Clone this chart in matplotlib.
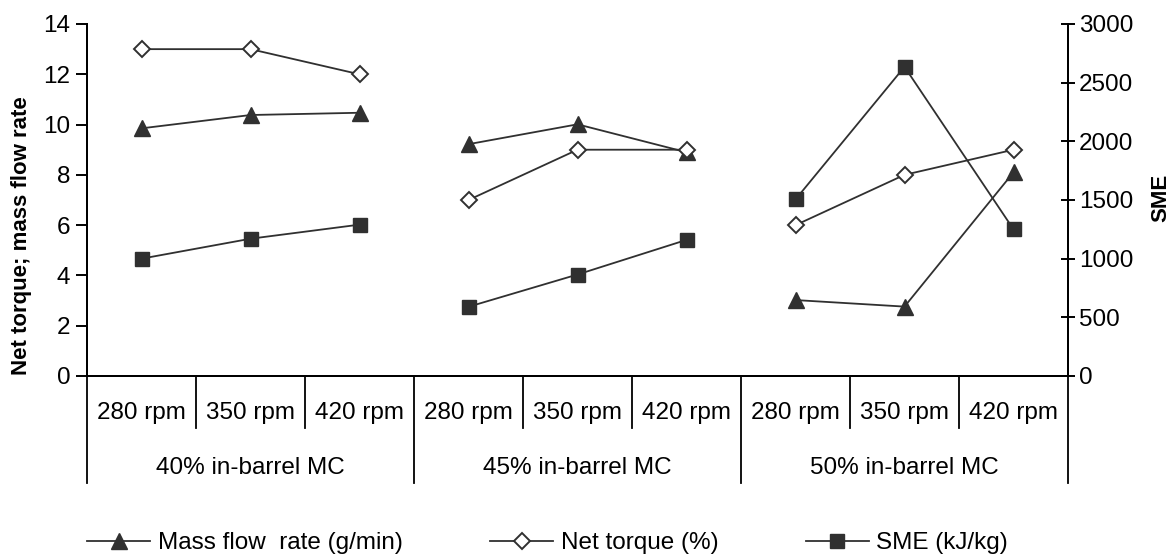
import matplotlib
matplotlib.use('Agg')
import matplotlib.pyplot as plt
import numpy as np

plt.rcParams['font.family'] = ['Liberation Sans', 'DejaVu Sans']

speeds = ['280 rpm', '350 rpm', '420 rpm']
groups = ['40% in-barrel MC', '45% in-barrel MC', '50% in-barrel MC']

mass_flow = [[9.85, 10.38, 10.47], [9.22, 10.01, 8.9], [3.02, 2.76, 8.1]]
net_torque = [[13, 13, 12], [7, 9, 9], [6, 8, 9]]
sme = [[1000, 1170, 1290], [590, 865, 1160], [1505, 2635, 1250]]

col = '#303030'
fs = 17.5

fig = plt.figure(figsize=(11.75, 5.59), dpi=100)
ax = fig.add_axes([87/1175, 1-376/559, (1068-87)/1175, 352/559])
ax2 = ax.twinx()

n = len(speeds)
for g in range(len(groups)):
    x = np.arange(n) + g*n
    ax.plot(x, mass_flow[g], color=col, lw=1.3, marker='^', ms=11, mfc=col, mec=col,
            label='Mass flow  rate (g/min)' if g == 0 else None)
    ax.plot(x, net_torque[g], color=col, lw=1.3, marker='D', ms=8, mfc='white', mec=col, mew=1.4,
            label='Net torque (%)' if g == 0 else None)
    ax2.plot(x, sme[g], color=col, lw=1.3, marker='s', ms=10, mfc=col, mec=col,
             label='SME (kJ/kg)' if g == 0 else None)

ax.set_xlim(-0.5, n*len(groups) - 0.5)
ax.set_ylim(0, 14)
ax.set_yticks(range(0, 15, 2))
ax2.set_ylim(0, 3000)
ax2.set_yticks(range(0, 3001, 500))

for a in (ax, ax2):
    a.spines['top'].set_visible(False)
    for s in a.spines.values():
        s.set_linewidth(1.4)
        s.set_color('black')
ax.set_xticks([])
ax.tick_params(axis='y', labelsize=fs, direction='out', length=8, width=1.4, pad=4)
ax2.tick_params(axis='y', labelsize=fs, direction='inout', length=10, width=1.4, pad=3)

ax.set_ylabel('Net torque; mass flow rate', fontsize=16, fontweight='bold')
ax.yaxis.set_label_coords(-0.056, 0.40)
ax2.set_ylabel('SME', fontsize=16, fontweight='bold')
ax2.yaxis.set_label_coords(1.0836, 0.505)

# category axis: separators and labels
tr = ax.get_xaxis_transform()
total = n*len(groups)
for i in range(total + 1):
    y_end = -0.304 if i % n == 0 else -0.148
    ax.plot([i - 0.5, i - 0.5], [0, y_end], color='black', lw=1.3, transform=tr, clip_on=False)
for i in range(total):
    ax.text(i, -0.105, speeds[i % n], transform=tr, ha='center', va='center', fontsize=fs)
for g, name in enumerate(groups):
    ax.text(g*n + (n-1)/2, -0.261, name, transform=tr, ha='center', va='center', fontsize=fs)

h1, l1 = ax.get_legend_handles_labels()
h2, l2 = ax2.get_legend_handles_labels()
fig.legend(h1 + h2, l1 + l2, loc='center', bbox_to_anchor=(0.466, 1-543/559), ncol=3,
           frameon=False, fontsize=fs, handlelength=2.6, handletextpad=0.3,
           columnspacing=3.6, numpoints=1)

fig.savefig('out.png', dpi=100)
